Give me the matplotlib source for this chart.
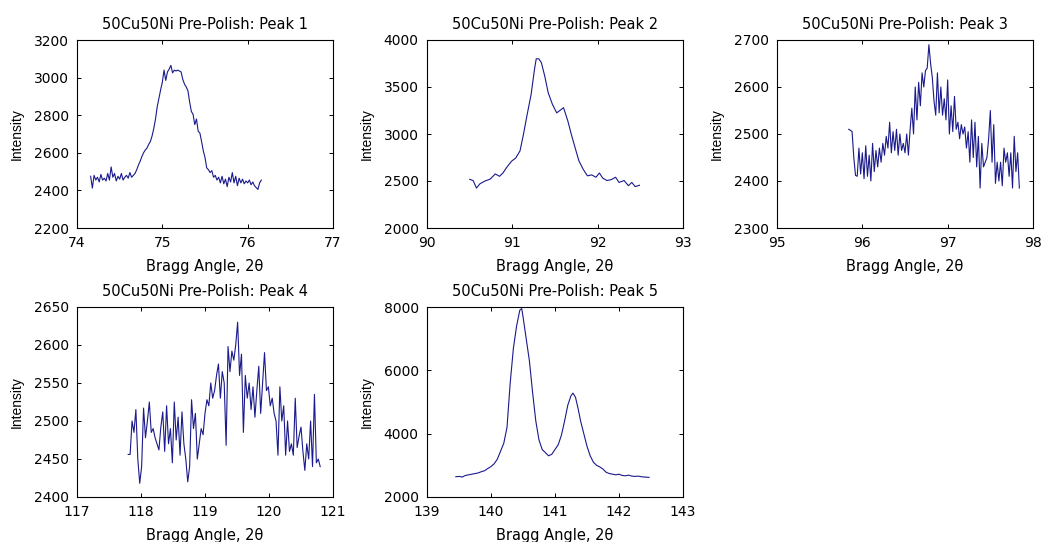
import numpy as np
import matplotlib
matplotlib.use("Agg")
import matplotlib.pyplot as plt

plt.rcParams['font.family'] = ['DejaVu Sans']

# Peak 1: 74.16 .. 76.16, step 0.02
x1 = np.linspace(74.16, 76.16, 101)
y1 = [2475, 2412, 2480, 2455, 2470, 2445, 2485, 2455, 2465, 2450,
      2490, 2455, 2525, 2470, 2490, 2450, 2475, 2460, 2490, 2455,
      2470, 2480, 2465, 2495, 2470, 2480, 2490, 2510, 2535, 2555,
      2580, 2600, 2615, 2625, 2645, 2660, 2690, 2730, 2780, 2845,
      2890, 2935, 2975, 3040, 2985, 3030, 3045, 3065, 3025, 3040,
      3035, 3040, 3035, 3030, 2990, 2965, 2950, 2930, 2870, 2820,
      2805, 2750, 2780, 2715, 2705, 2660, 2610, 2575, 2520, 2510,
      2495, 2505, 2470, 2480, 2455, 2470, 2440, 2475, 2435, 2460,
      2420, 2470, 2445, 2495, 2440, 2475, 2425, 2465, 2440, 2460,
      2435, 2450, 2440, 2455, 2430, 2445, 2425, 2415, 2405, 2440,
      2455]

# Peak 2
x2 = [90.50, 90.54, 90.58, 90.62, 90.68, 90.74, 90.80, 90.85, 90.89, 90.93,
      90.99, 91.04, 91.09, 91.13, 91.17, 91.22, 91.26, 91.28, 91.31, 91.34,
      91.38, 91.42, 91.47, 91.52, 91.55, 91.60, 91.65, 91.69, 91.74, 91.78,
      91.83, 91.88, 91.93, 91.98, 92.02, 92.06, 92.11, 92.16, 92.21, 92.25,
      92.31, 92.36, 92.40, 92.44, 92.49]
y2 = [2518, 2505, 2425, 2470, 2500, 2520, 2575, 2550, 2585, 2640,
      2710, 2745, 2820, 2995, 3190, 3420, 3690, 3800, 3800, 3760,
      3615, 3440, 3315, 3225, 3245, 3280, 3140, 3000, 2840, 2715,
      2625, 2555, 2565, 2540, 2585, 2530, 2505, 2515, 2540, 2485,
      2505, 2450, 2485, 2440, 2455]

# Peak 3: 95.84 .. 97.84, step 0.02
x3 = np.linspace(95.84, 97.84, 101)
y3 = [2510, 2508, 2505, 2450, 2412, 2410, 2470, 2415, 2460, 2405,
      2475, 2410, 2455, 2400, 2480, 2420, 2465, 2430, 2470, 2440,
      2480, 2455, 2495, 2470, 2525, 2460, 2505, 2465, 2510, 2455,
      2500, 2465, 2480, 2460, 2500, 2455, 2510, 2555, 2500, 2600,
      2530, 2610, 2560, 2630, 2600, 2635, 2640, 2690, 2650, 2620,
      2570, 2540, 2630, 2545, 2600, 2540, 2575, 2530, 2615, 2500,
      2560, 2505, 2580, 2510, 2525, 2490, 2520, 2500, 2515, 2470,
      2505, 2440, 2530, 2450, 2525, 2430, 2495, 2385, 2480, 2430,
      2440, 2450, 2490, 2550, 2440, 2520, 2395, 2440, 2400, 2440,
      2390, 2470, 2440, 2460, 2410, 2460, 2385, 2495, 2420, 2460,
      2385]

# Peak 4: 117.80 .. 120.80, step 0.03
x4 = np.linspace(117.80, 120.80, 101)
y4 = [2456, 2456, 2500, 2485, 2515, 2450, 2418, 2440, 2517, 2478,
      2500, 2525, 2485, 2490, 2478, 2470, 2462, 2492, 2512, 2460,
      2520, 2470, 2490, 2445, 2525, 2475, 2505, 2455, 2512, 2470,
      2450, 2420, 2440, 2528, 2490, 2510, 2450, 2470, 2490, 2482,
      2510, 2528, 2520, 2550, 2530, 2540, 2560, 2575, 2530, 2565,
      2550, 2468, 2598, 2565, 2592, 2580, 2600, 2630, 2560, 2588,
      2485, 2560, 2530, 2550, 2515, 2545, 2505, 2540, 2572, 2510,
      2550, 2590, 2540, 2545, 2520, 2530, 2510, 2500, 2455, 2545,
      2500, 2520, 2455, 2500, 2460, 2470, 2455, 2530, 2465, 2480,
      2492, 2460, 2435, 2470, 2450, 2500, 2440, 2535, 2445, 2450,
      2440]

# Peak 5
x5 = [139.45, 139.50, 139.55, 139.60, 139.65, 139.70, 139.75, 139.80, 139.85, 139.90,
      139.95, 140.00, 140.05, 140.10, 140.15, 140.20, 140.25, 140.30, 140.35, 140.40,
      140.45, 140.48, 140.50, 140.55, 140.60, 140.65, 140.70, 140.75, 140.80, 140.85,
      140.90, 140.95, 141.00, 141.05, 141.10, 141.15, 141.20, 141.25, 141.28, 141.32,
      141.36, 141.40, 141.45, 141.50, 141.55, 141.60, 141.65, 141.70, 141.75, 141.80,
      141.85, 141.90, 141.95, 142.00, 142.05, 142.10, 142.15, 142.20, 142.25, 142.30,
      142.35, 142.40, 142.47]
y5 = [2640, 2650, 2630, 2680, 2700, 2720, 2740, 2760, 2800, 2830,
      2900, 2960, 3050, 3200, 3450, 3700, 4200, 5600, 6700, 7400,
      7900, 7950, 7700, 7000, 6300, 5300, 4400, 3800, 3500, 3400,
      3300, 3350, 3500, 3650, 3950, 4400, 4900, 5200, 5280, 5150,
      4800, 4400, 4000, 3600, 3300, 3100, 3000, 2950, 2880, 2780,
      2740, 2720, 2700, 2720, 2680, 2670, 2690, 2660, 2650, 2660,
      2640, 2630, 2620]

panels = [
    (x1, y1, (74, 77), np.arange(74, 78, 1), (2200, 3200), np.arange(2200, 3201, 200), 1),
    (x2, y2, (90, 93), np.arange(90, 94, 1), (2000, 4000), np.arange(2000, 4001, 500), 2),
    (x3, y3, (95, 98), np.arange(95, 99, 1), (2300, 2700), np.arange(2300, 2701, 100), 3),
    (x4, y4, (117, 121), np.arange(117, 122, 1), (2400, 2650), np.arange(2400, 2651, 50), 4),
    (x5, y5, (139, 143), np.arange(139, 144, 1), (2000, 8000), np.arange(2000, 8001, 2000), 5),
]

W, H = 1047, 542
lefts = [77, 427, 777]
rows = [(40, 228), (307, 497)]

fig = plt.figure(figsize=(W / 100, H / 100), dpi=100)

for k, (x, y, xl, xt, yl, yt, n) in enumerate(panels):
    r, c = divmod(k, 3)
    top, bot = rows[r]
    ax = fig.add_axes([lefts[c] / W, (H - bot) / H, 256 / W, (bot - top) / H])
    ax.plot(x, y, color='#1a1a8c', linewidth=0.8)
    ax.set_xlim(*xl)
    ax.set_ylim(*yl)
    ax.set_xticks(xt)
    ax.set_yticks(yt)
    ax.tick_params(direction='in', length=3, width=0.7, top=True, right=True,
                   labelsize=10, pad=6)
    for s in ax.spines.values():
        s.set_linewidth(0.8)
    ax.set_title('50Cu50Ni Pre-Polish: Peak %d' % n, fontsize=10.5, pad=8)
    ax.set_xlabel('Bragg Angle, 2θ', fontsize=10.5, labelpad=6)
    ax.set_ylabel('Intensity', fontsize=10, family=['Liberation Sans', 'DejaVu Sans'],
                  labelpad=7)

fig.savefig('out.png', dpi=100)
